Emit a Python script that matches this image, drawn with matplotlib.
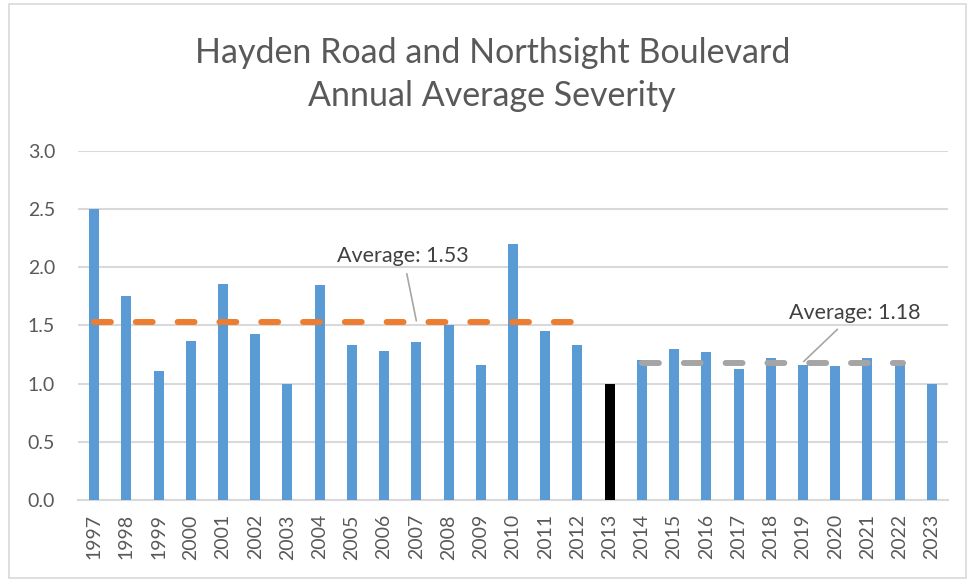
import matplotlib
matplotlib.use("Agg")
import matplotlib.pyplot as plt
from matplotlib.patches import Rectangle

years = [str(y) for y in range(1997, 2024)]
severity = [2.50, 1.75, 1.11, 1.37, 1.86, 1.43, 1.00, 1.85, 1.33, 1.28, 1.36,
            1.50, 1.16, 2.20, 1.45, 1.33, 1.00, 1.20, 1.30, 1.27, 1.13, 1.22,
            1.16, 1.15, 1.22, 1.18, 1.00]
highlight_year = "2013"
avg1_years = ("1997", "2012")
avg1_value = 1.53
avg2_years = ("2014", "2022")
avg2_value = 1.18
title = "Hayden Road and Northsight Boulevard\nAnnual Average Severity"
yticks = [0.0, 0.5, 1.0, 1.5, 2.0, 2.5, 3.0]

plt.rcParams['font.family'] = ['Lato', 'DejaVu Sans']
text_color = "#595959"
blue = "#5B9BD5"

fig = plt.figure(figsize=(9.67, 5.8), dpi=100)
ax = fig.add_axes([0.0807, 0.1374, 0.8996, 0.6028])

x = list(range(len(years)))
colors = ["black" if y == highlight_year else blue for y in years]
ax.bar(x, severity, width=0.31, color=colors, zorder=3)

lw = 4.3
i1a, i1b = years.index(avg1_years[0]), years.index(avg1_years[1])
ax.plot([i1a, i1b], [avg1_value, avg1_value], color="#ED7D31", lw=lw,
        dashes=(2.83, 4.17), dash_capstyle="round", solid_capstyle="round", zorder=4)
i2a, i2b = years.index(avg2_years[0]), years.index(avg2_years[1])
ax.plot([i2a, i2b + 0.09], [avg2_value, avg2_value], color="#A5A5A5", lw=lw,
        dashes=(2.83, 4.17), dash_capstyle="round", solid_capstyle="round", zorder=4)

ax.annotate(f"Average: {avg1_value:.2f}", xy=(10.0, avg1_value + 0.01),
            xytext=(9.59, 2.10), ha="center", va="center", fontsize=15.5,
            color="#404040",
            arrowprops=dict(arrowstyle="-", color="#A6A6A6", lw=1.2,
                            shrinkA=4, shrinkB=0))
ax.annotate(f"Average: {avg2_value:.2f}", xy=(22.02, avg2_value + 0.01),
            xytext=(23.61, 1.61), ha="center", va="center", fontsize=15.5,
            color="#404040",
            arrowprops=dict(arrowstyle="-", color="#A6A6A6", lw=1.2,
                            shrinkA=4, shrinkB=0))

ax.set_xlim(-0.5, len(years) - 0.5)
ax.set_ylim(0, 3.0)
ax.set_yticks(yticks)
ax.set_yticklabels([f"{v:.1f}" for v in yticks])
ax.set_xticks(x)
ax.set_xticklabels(years, rotation=90)
ax.tick_params(axis="both", length=0, colors=text_color, labelsize=14)
ax.tick_params(axis="y", pad=16.5)
ax.tick_params(axis="x", pad=10)
ax.grid(axis="y", color="#D9D9D9", lw=1.5, zorder=0)
for s in ["top", "right", "left"]:
    ax.spines[s].set_visible(False)
ax.spines["bottom"].set_color("#D9D9D9")
ax.spines["bottom"].set_linewidth(1.5)

fig.text(0.509, 0.871, title, ha="center", va="center", fontsize=24.5,
         color=text_color, linespacing=1.42)

fig.patches.append(Rectangle((0.009, 0.003), 0.99, 0.99, transform=fig.transFigure,
                             fill=False, edgecolor="#D9D9D9", lw=1.2))

fig.savefig("out.png", dpi=100)
